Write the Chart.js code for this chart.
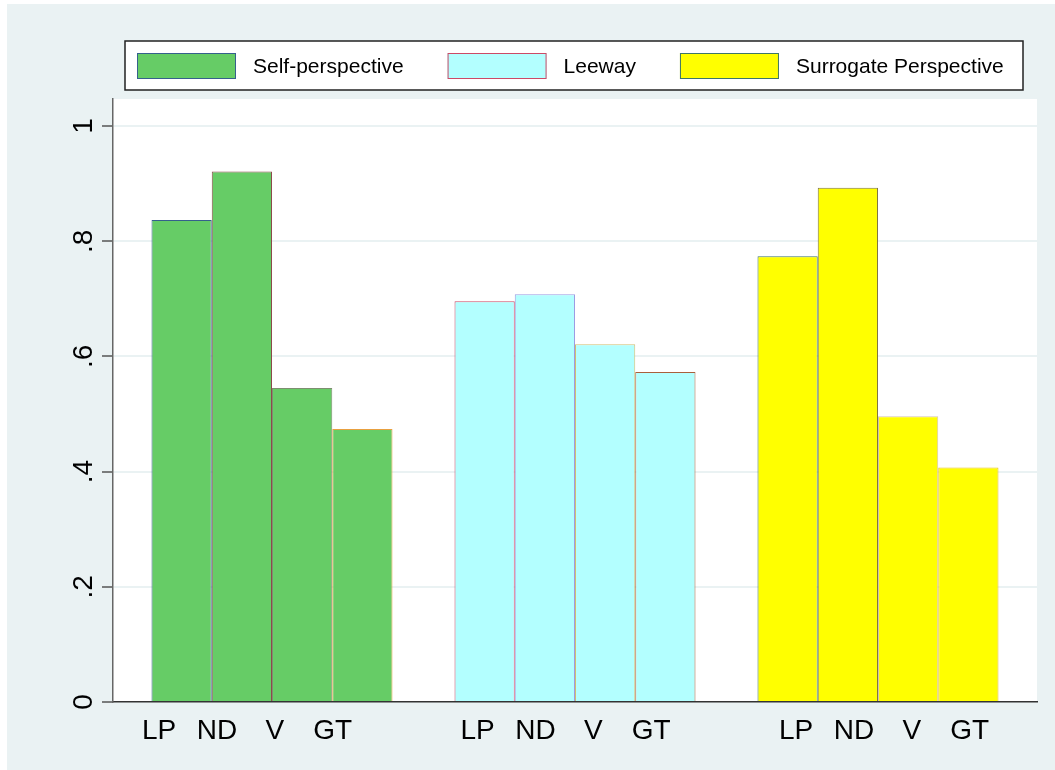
<!DOCTYPE html>
<html>
<head>
<meta charset="utf-8">
<script src="https://cdn.jsdelivr.net/npm/chart.js@4.4.1/dist/chart.umd.min.js"></script>
<style>
  html, body { margin: 0; padding: 0; background: #fff; }
  canvas { display: block; }
</style>
</head>
<body>
<canvas id="myChart" width="1055" height="770"></canvas>
<script>
let ctx = document.getElementById('myChart').getContext('2d');

// groups and bars
let categories = ['Self-perspective', 'Leeway', 'Surrogate Perspective'];
let measures = ['LP', 'ND', 'V', 'GT'];

// values per group, in the order of measures
let selfPerspective = [0.837, 0.921, 0.545, 0.474];
let leeway = [0.696, 0.708, 0.621, 0.573];
let surrogate = [0.774, 0.893, 0.496, 0.407];

let yTickValues = [0, 0.2, 0.4, 0.6, 0.8, 1];
let yTickLabels = ['0', '.2', '.4', '.6', '.8', '1'];

let groupValues = [selfPerspective, leeway, surrogate];
let fills = ['#66CC66', '#B3FFFF', '#FFFF00'];
let outlines = [
    ['#35608C', '#8C4A4A', '#7E8E70', '#E8A040'],
    ['#CC4A66', '#9C9CE2', '#D2BE72', '#A8603C'],
    ['#3E7668', '#7E7440', '#D6C4B0', '#E6C21A']
];

let FONT = "'Liberation Sans', Arial, sans-serif";
let BG = '#EAF2F3';

let datasets = measures.map(function(m, j) {
    return {
        label: m,
        data: categories.map(function(c, g) { return {x: g, y: groupValues[g][j]}; }),
        backgroundColor: fills,
        borderColor: outlines.map(function(o) { return o[j]; }),
        borderWidth: 1,
        categoryPercentage: 0.7954,
        barPercentage: 1.0
    };
});

let backdrop = {
    id: 'backdrop',
    beforeDraw: function(chart) {
        let c = chart.ctx, a = chart.chartArea;
        c.save();
        c.fillStyle = '#FFFFFF';
        c.fillRect(0, 0, chart.width, chart.height);
        c.fillStyle = BG;
        c.fillRect(7, 4, chart.width - 7, chart.height - 4);
        c.fillStyle = '#FFFFFF';
        c.fillRect(a.left, a.top, a.right - a.left, a.bottom - a.top);
        c.restore();
    }
};

let labelsAndLegend = {
    id: 'labelsAndLegend',
    afterDraw: function(chart) {
        let c = chart.ctx, a = chart.chartArea;
        let ys = chart.scales.y, xs = chart.scales.x;
        c.save();
        c.fillStyle = '#000';

        // y tick labels, turned
        c.font = '28px ' + FONT;
        c.textAlign = 'center';
        c.textBaseline = 'alphabetic';
        yTickValues.forEach(function(v, i) {
            c.save();
            c.translate(ys.right - 21, ys.getPixelForValue(v));
            c.rotate(-Math.PI / 2);
            c.fillText(yTickLabels[i], 0, 0);
            c.restore();
        });

        // bar labels under the axis
        c.font = '28px ' + FONT;
        categories.forEach(function(cat, g) {
            measures.forEach(function(m, j) {
                let x = xs.getPixelForValue(g * 1.051 - 0.086 + (j - 1.5) * 0.191);
                c.fillText(m, x, a.bottom + 37);
            });
        });

        // legend box
        let bx = a.left + 12, by = 41, bw = a.right - 14 - bx, bh = 49;
        c.fillStyle = '#FFFFFF';
        c.fillRect(bx, by, bw, bh);
        c.strokeStyle = '#222';
        c.lineWidth = 1.5;
        c.strokeRect(bx, by, bw, bh);

        c.font = '21px ' + FONT;
        c.textAlign = 'left';
        c.textBaseline = 'middle';
        let x = bx + 12;
        categories.forEach(function(cat, g) {
            c.fillStyle = fills[g];
            c.fillRect(x, 53, 99, 26);
            c.strokeStyle = outlines[g][0];
            c.lineWidth = 1;
            c.strokeRect(x + 0.5, 53.5, 98, 25);
            c.fillStyle = '#000';
            c.fillText(cat, x + 116, 67);
            x += 116 + c.measureText(cat).width + 44;
        });
        c.restore();
    }
};

let chart = new Chart(ctx, {
    type: 'bar',
    data: { datasets: datasets },
    plugins: [backdrop, labelsAndLegend],
    options: {
        responsive: false,
        animation: false,
        devicePixelRatio: 1,
        layout: { padding: { top: 99, right: 18, bottom: 0, left: 0 } },
        plugins: {
            legend: { display: false },
            tooltip: { enabled: false }
        },
        scales: {
            x: {
                type: 'linear',
                offset: false,
                min: -0.5248,
                max: 2.5248,
                z: 1,
                grid: { display: false },
                ticks: { display: false },
                border: { display: true, color: '#333', width: 1.5 },
                afterBuildTicks: function(s) {
                    s.ticks = categories.map(function(c, g) { return {value: g}; });
                },
                afterFit: function(s) { s.height = 68; }
            },
            y: {
                min: 0,
                max: 1.047,
                grid: {
                    color: BG,
                    lineWidth: 2,
                    drawTicks: true,
                    tickLength: 11,
                    tickColor: '#555',
                    tickWidth: 1.5
                },
                ticks: { display: false },
                border: { display: true, color: '#666', width: 1.5 },
                afterBuildTicks: function(s) {
                    s.ticks = yTickValues.map(function(v) { return {value: v}; });
                },
                afterFit: function(s) { s.width = 113; }
            }
        }
    }
});
</script>
</body>
</html>
